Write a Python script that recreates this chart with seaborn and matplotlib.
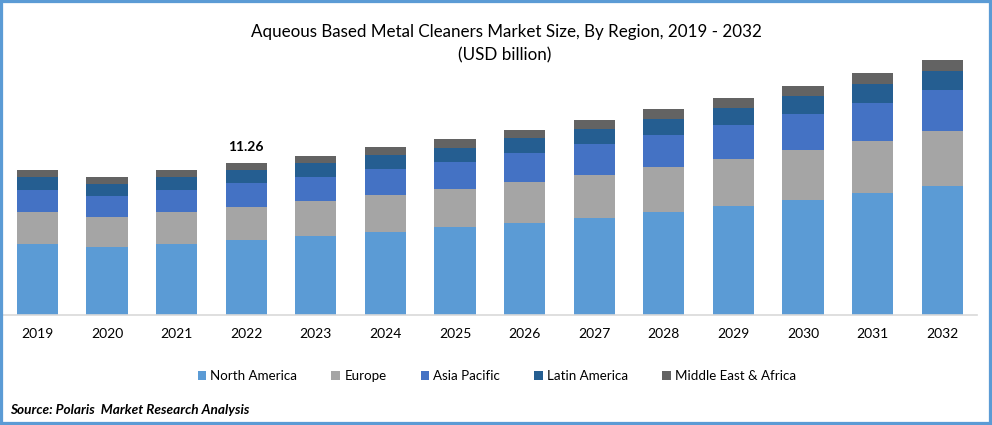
import matplotlib
matplotlib.use("Agg")
import matplotlib.pyplot as plt
from matplotlib.patches import Rectangle
import numpy as np
import seaborn as sns

years = ['2019', '2020', '2021', '2022', '2023', '2024', '2025', '2026', '2027', '2028', '2029', '2030', '2031', '2032']
north_america = [5.26, 5.04, 5.26, 5.56, 5.85, 6.15, 6.52, 6.81, 7.19, 7.63, 8.07, 8.52, 9.04, 9.56]
europe = [2.37, 2.22, 2.37, 2.44, 2.59, 2.74, 2.81, 3.04, 3.19, 3.33, 3.48, 3.70, 3.85, 4.07]
asia_pacific = [1.63, 1.56, 1.63, 1.78, 1.78, 1.93, 2.00, 2.15, 2.30, 2.37, 2.52, 2.67, 2.81, 3.04]
latin_america = [0.96, 0.89, 0.96, 0.96, 1.04, 1.04, 1.04, 1.11, 1.11, 1.19, 1.26, 1.33, 1.41, 1.41]
middle_east = [0.52, 0.52, 0.52, 0.52, 0.52, 0.59, 0.67, 0.59, 0.67, 0.74, 0.74, 0.74, 0.81, 0.81]

regions = ['North America', 'Europe', 'Asia Pacific', 'Latin America', 'Middle East & Africa']
colors = ['#5B9BD5', '#A5A5A5', '#4472C4', '#255E91', '#636363']

sns.set_theme(style='white')
plt.rcParams['font.family'] = ['Lato', 'DejaVu Sans']

W, H = 992, 425
fig = plt.figure(figsize=(W / 100, H / 100), dpi=100)
# axes placed in pixels so the baseline sits at y=315
ax = fig.add_axes([2.6 / W, 1 - 315 / H, (977.0 - 2.6) / W, 270 / H])

bottom = np.zeros(len(years))
series = [north_america, europe, asia_pacific, latin_america, middle_east]
for name, vals, col in zip(regions, series, colors):
    sns.barplot(x=years, y=vals, bottom=bottom, color=col, saturation=1, width=0.59,
                linewidth=0, label=name, legend=False, ax=ax)
    bottom += np.array(vals)

ax.set_xlim(-0.5, 13.5)
ax.set_ylim(0, 20)
ax.set_yticks([])
ax.set_ylabel('')
sns.despine(ax=ax, left=True, top=True, right=True)
ax.spines['bottom'].set_color('#D9D9D9')
ax.spines['bottom'].set_linewidth(1.2)
ax.tick_params(axis='x', length=0, pad=9, labelsize=10, labelcolor='black')

# only 2022 has a value label
ax.text(3, bottom[3] + 0.75, '11.26', ha='center', va='bottom', fontsize=10, fontweight='bold', color='black')

fig.text(506.5 / W, 1 - 32 / H, 'Aqueous Based Metal Cleaners Market Size, By Region, 2019 - 2032',
         ha='center', va='center', fontsize=12.25, color='black')
fig.text(505 / W, 1 - 55 / H, '(USD billion)', ha='center', va='center', fontsize=12.25, color='black')

handles, labels = ax.get_legend_handles_labels()
fig.legend(handles[:5], labels[:5], loc='center', bbox_to_anchor=(497 / W, 1 - 376 / H), ncol=5, frameon=False,
           fontsize=9.6, handlelength=0.62, handleheight=0.62, handletextpad=0.35, columnspacing=2.55, labelcolor='black')

fig.text(10.5 / W, 1 - 410 / H, 'Source: Polaris  Market Research Analysis', ha='left', va='center',
         fontsize=9.8, fontweight='bold', fontstyle='italic', color='black')

# blue frame around the picture
fig.add_artist(Rectangle((0, 0), 1, 1, transform=fig.transFigure, fill=False, edgecolor='#5B9BD5', linewidth=4.5))

fig.savefig('out.png', dpi=100)
